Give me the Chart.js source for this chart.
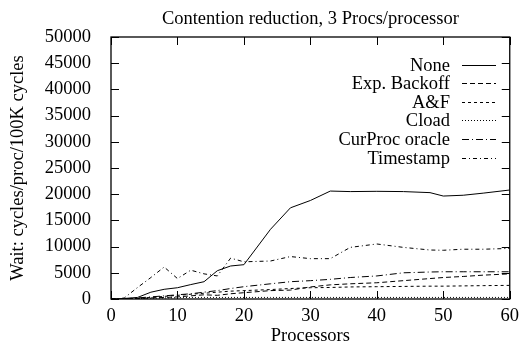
<!DOCTYPE html>
<html>
<head>
<meta charset="utf-8">
<script src="https://cdn.jsdelivr.net/npm/chart.js@4/dist/chart.umd.min.js"></script>
<style>
  html, body { margin: 0; padding: 0; background: #fff; }
  #wrap { width: 525px; height: 347px; }
</style>
</head>
<body>
<div id="wrap"><canvas id="graphe" width="525" height="347"></canvas></div>
<script>
// donnees
var procs     = [0, 1, 2, 4, 6, 8, 10, 12, 14, 16, 18, 20, 24, 27, 30, 33, 36, 40, 44, 48, 50, 53, 56, 60];
var none      = [0, 0, 100, 300, 1300, 1850, 2150, 2750, 3300, 5400, 6300, 6550, 13300, 17400, 18800, 20600, 20500, 20550, 20500, 20300, 19650, 19800, 20200, 20800];
var expBack   = [0, 0, 0, 100, 200, 300, 400, 600, 800, 700, 1000, 1200, 1600, 1700, 2300, 2700, 2900, 3100, 3500, 3900, 4100, 4300, 4550, 4800];
var aef       = [0, 0, 0, 100, 300, 500, 700, 900, 1100, 1300, 1500, 1600, 1800, 2000, 2150, 2200, 2300, 2350, 2400, 2450, 2450, 2500, 2550, 2600];
var cload     = [0, 0, 50, 100, 150, 200, 250, 300, 300, 300, 300, 300, 300, 300, 300, 300, 300, 300, 300, 300, 300, 300, 300, 300];
var curProc   = [0, 0, 50, 200, 400, 600, 800, 1000, 1300, 1600, 2000, 2350, 2900, 3300, 3500, 3750, 4100, 4400, 5000, 5150, 5200, 5200, 5200, 5200];
var timestamp = [0, 0, 200, 2200, 4100, 6100, 3900, 5500, 4800, 4400, 7800, 7100, 7250, 8100, 7700, 7700, 9850, 10500, 9850, 9350, 9300, 9500, 9500, 9650];

var xTicks = [0, 10, 20, 30, 40, 50, 60];
var yTicks = [0, 5000, 10000, 15000, 20000, 25000, 30000, 35000, 40000, 45000, 50000];

var police = '"Liberation Serif", "DejaVu Serif", serif';
var taille = 18.5;

function serie(label, valeurs, tirets) {
    var pts = [];
    for (var i = 0; i < procs.length; i++) {
        pts.push({ x: procs[i], y: valeurs[i] });
    }
    return {
        label: label,
        data: pts,
        borderColor: '#000',
        borderWidth: 1,
        borderDash: tirets,
        pointRadius: 0,
        fill: false,
        tension: 0
    };
}

// cadre + graduations vers l'interieur (style gnuplot) + legende dans le graphe
var cadrePlugin = {
    id: 'cadre',
    afterDatasetsDraw: function (chart) {
        var ctx = chart.ctx;
        var a = chart.chartArea;
        var sx = chart.scales.x;
        var sy = chart.scales.y;
        var L = 8;
        ctx.save();
        ctx.strokeStyle = '#000';
        ctx.lineWidth = 1.3;
        ctx.setLineDash([]);
        ctx.strokeRect(a.left, a.top, a.right - a.left, a.bottom - a.top);
        ctx.lineWidth = 1;
        ctx.beginPath();
        xTicks.forEach(function (v) {
            var px = Math.round(sx.getPixelForValue(v)) + 0.5;
            ctx.moveTo(px, a.bottom); ctx.lineTo(px, a.bottom - L);
            ctx.moveTo(px, a.top); ctx.lineTo(px, a.top + L);
        });
        yTicks.forEach(function (v) {
            var py = Math.round(sy.getPixelForValue(v)) + 0.5;
            ctx.moveTo(a.left, py); ctx.lineTo(a.left + L, py);
            ctx.moveTo(a.right, py); ctx.lineTo(a.right - L, py);
        });
        ctx.stroke();

        // legende
        ctx.font = taille + 'px ' + police;
        ctx.fillStyle = '#000';
        ctx.textAlign = 'right';
        ctx.textBaseline = 'middle';
        var y0 = 64.5;
        var pas = 18.6;
        chart.data.datasets.forEach(function (ds, i) {
            var y = Math.round(y0 + i * pas) + 0.5;
            ctx.fillText(ds.label, 450, y + 1);
            ctx.setLineDash(ds.borderDash);
            ctx.beginPath();
            ctx.moveTo(462, y);
            ctx.lineTo(496, y);
            ctx.stroke();
        });
        ctx.restore();
    }
};

var ctx = document.getElementById('graphe');
var monGraphe = new Chart(ctx, {
    type: 'line',
    data: {
        datasets: [
            serie('None', none, []),
            serie('Exp. Backoff', expBack, [5, 3]),
            serie('A&F', aef, [3, 3]),
            serie('Cload', cload, [1, 2]),
            serie('CurProc oracle', curProc, [7, 3, 1, 3]),
            serie('Timestamp', timestamp, [4, 3, 1, 3])
        ]
    },
    options: {
        responsive: false,
        animation: false,
        layout: { padding: { left: 0, right: 10, top: 0, bottom: 0 } },
        plugins: {
            legend: { display: false },
            tooltip: { enabled: false },
            title: {
                display: true,
                fullSize: false,
                text: 'Contention reduction, 3 Procs/processor',
                color: '#000',
                font: { family: police, size: taille, weight: 'normal' },
                padding: { top: 8.5, bottom: 6.3 }
            }
        },
        scales: {
            x: {
                type: 'linear',
                min: 0,
                max: 60,
                afterBuildTicks: function (s) { s.ticks = xTicks.map(function (v) { return { value: v }; }); },
                afterFit: function (s) { s.height = 48; },
                grid: { display: false, drawTicks: false },
                border: { display: false },
                ticks: {
                    color: '#000', font: { family: police, size: taille }, padding: 6, maxRotation: 0,
                    callback: function (v) { return String(v); }
                },
                title: {
                    display: true,
                    text: 'Processors',
                    color: '#000',
                    font: { family: police, size: taille },
                    padding: { top: -4, bottom: 0 }
                }
            },
            y: {
                min: 0,
                max: 50000,
                afterBuildTicks: function (s) { s.ticks = yTicks.map(function (v) { return { value: v }; }); },
                afterFit: function (s) { s.width = 111; },
                grid: { display: false, drawTicks: false },
                border: { display: false },
                ticks: {
                    color: '#000', font: { family: police, size: taille }, padding: 20,
                    callback: function (v) { return String(v); }
                },
                title: {
                    display: true,
                    text: 'Wait: cycles/proc/100K cycles',
                    color: '#000',
                    font: { family: police, size: taille },
                    padding: { top: 7, bottom: 0 }
                }
            }
        }
    },
    plugins: [cadrePlugin]
});
</script>
</body>
</html>
